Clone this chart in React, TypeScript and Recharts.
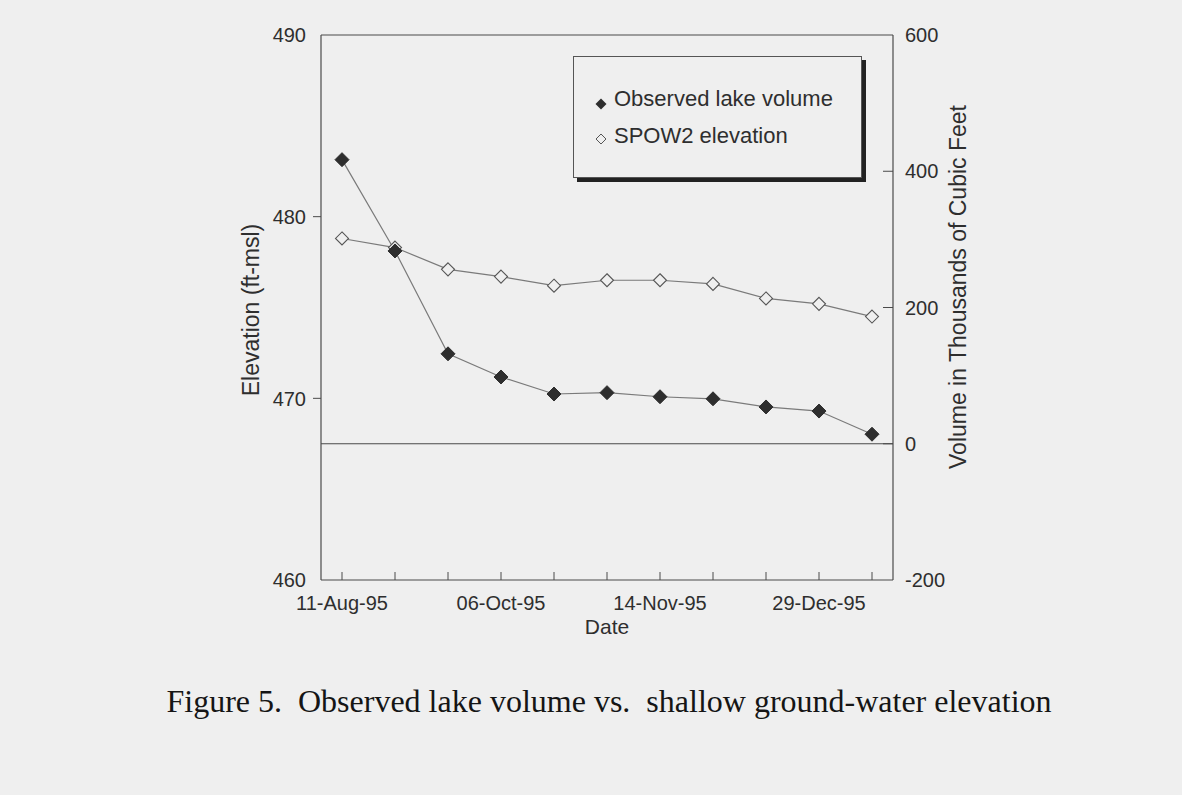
import React from 'react';
import { LineChart, Line, XAxis, YAxis, ReferenceLine, Legend } from 'recharts';

// Sampling dates (category axis); only every third one is labelled
const dates = [
  '11-Aug-95', '29-Aug-95', '18-Sep-95', '06-Oct-95', '19-Oct-95', '01-Nov-95',
  '14-Nov-95', '29-Nov-95', '14-Dec-95', '29-Dec-95', '12-Jan-96',
];
const labeledDates = ['11-Aug-95', '06-Oct-95', '14-Nov-95', '29-Dec-95'];

// Observed lake volume, thousands of cubic feet (right axis)
const lakeVolume = [417, 283, 132, 98, 73, 75, 69, 66, 54, 48, 14];
// SPOW2 shallow ground-water elevation, ft-msl (left axis)
const spow2Elevation = [478.8, 478.3, 477.1, 476.7, 476.2, 476.5, 476.5, 476.3, 475.5, 475.2, 474.5];

const elevationTicks = [460, 470, 480, 490];
const volumeTicks = [-200, 0, 200, 400, 600];

const data = dates.map((d, i) => ({ date: d, volume: lakeVolume[i], elevation: spow2Elevation[i] }));

const BG = '#efefef';
const INK = '#2e2e2e';
const AXIS = '#4a4a4a';
const LINE = '#7a7a7a';
const FONT = '"Liberation Sans", Arial, Helvetica, sans-serif';

const diamond = (cx: number, cy: number, r: number) =>
  `${cx},${cy - r} ${cx + r},${cy} ${cx},${cy + r} ${cx - r},${cy}`;

const FilledDot = (props: any) => {
  const { cx, cy, index } = props;
  if (cx == null || cy == null) return <g key={`f${index}`} />;
  return <polygon key={`f${index}`} points={diamond(cx, cy, 7)} fill="#2e2e2e" stroke="#2e2e2e" strokeWidth={1} />;
};

const OpenDot = (props: any) => {
  const { cx, cy, index } = props;
  if (cx == null || cy == null) return <g key={`o${index}`} />;
  return <polygon key={`o${index}`} points={diamond(cx, cy, 6.5)} fill={BG} stroke="#555" strokeWidth={1.1} />;
};

const LeftTick = (props: any) => {
  const { x, y, payload } = props;
  const v = payload.value;
  return (
    <g>
      {v !== 460 && v !== 490 && <line x1={x - 8} x2={x} y1={y} y2={y} stroke={AXIS} strokeWidth={1} />}
      <text x={x - 15} y={y} dy="0.36em" textAnchor="end" fontSize={20} fontFamily={FONT} fill={INK}>
        {v}
      </text>
    </g>
  );
};

const RightTick = (props: any) => {
  const { x, y, payload } = props;
  const v = payload.value;
  return (
    <g>
      {v !== -200 && v !== 600 && <line x1={x - 10} x2={x} y1={y} y2={y} stroke={AXIS} strokeWidth={1} />}
      <text x={x + 12} y={y} dy="0.36em" textAnchor="start" fontSize={20} fontFamily={FONT} fill={INK}>
        {v}
      </text>
    </g>
  );
};

const DateTick = (props: any) => {
  const { x, y, payload } = props;
  const show = labeledDates.includes(payload.value);
  return (
    <g>
      <line x1={x} x2={x} y1={y - 8} y2={y} stroke={AXIS} strokeWidth={1} />
      {show && (
        <text x={x} y={y + 30} textAnchor="middle" fontSize={20} fontFamily={FONT} fill={INK}>
          {payload.value}
        </text>
      )}
    </g>
  );
};

const LegendBox = () => (
  <div
    style={{
      width: 289,
      height: 122,
      boxSizing: 'border-box',
      border: '1px solid #555',
      background: BG,
      boxShadow: '4px 4px 0 #222',
      position: 'relative',
    }}
  >
    <svg width={289} height={122} style={{ position: 'absolute', left: 0, top: 0 }}>
      <polygon points={diamond(27, 47, 5.5)} fill="#2e2e2e" />
      <text x={40} y={49} fontSize={22} fontFamily={FONT} fill={INK}>Observed lake volume</text>
      <polygon points={diamond(27, 82, 5)} fill={BG} stroke="#555" strokeWidth={1} />
      <text x={40} y={86} fontSize={22} fontFamily={FONT} fill={INK}>SPOW2 elevation</text>
    </svg>
  </div>
);

export default function App() {
  return (
    <div style={{ position: 'absolute', left: 0, top: 0, width: 1182, height: 795, background: BG }}>
      <LineChart
        width={1182}
        height={795}
        data={data}
        margin={{ top: 35, right: 229, bottom: 175, left: 261 }}
      >
        <XAxis
          dataKey="date"
          interval={0}
          padding={{ left: 21, right: 21 }}
          tick={<DateTick />}
          tickLine={false}
          tickSize={0}
          tickMargin={0}
          height={40}
          axisLine={{ stroke: AXIS, strokeWidth: 1.2 }}
          label={{
            content: (p: any) => (
              <text x={p.viewBox.x + p.viewBox.width / 2} y={634} textAnchor="middle" fontSize={21} fontFamily={FONT} fill={INK}>
                Date
              </text>
            ),
          }}
        />
        <YAxis
          yAxisId="elev"
          orientation="left"
          domain={[460, 490]}
          ticks={elevationTicks}
          width={60}
          tick={<LeftTick />}
          tickLine={false}
          tickSize={0}
          tickMargin={0}
          axisLine={{ stroke: AXIS, strokeWidth: 1.2 }}
          label={{
            content: () => (
              <text x={259} y={310} textAnchor="middle" fontSize={23} fontFamily={FONT} fill={INK} transform="rotate(-90 259 310)">
                Elevation (ft-msl)
              </text>
            ),
          }}
        />
        <YAxis
          yAxisId="vol"
          orientation="right"
          domain={[-200, 600]}
          ticks={volumeTicks}
          width={60}
          tick={<RightTick />}
          tickLine={false}
          tickSize={0}
          tickMargin={0}
          axisLine={{ stroke: AXIS, strokeWidth: 1.2 }}
          label={{
            content: () => (
              <text x={966} y={287} textAnchor="middle" fontSize={23} fontFamily={FONT} fill={INK} transform="rotate(-90 966 287)">
                Volume in Thousands of Cubic Feet
              </text>
            ),
          }}
        />
        <ReferenceLine yAxisId="elev" y={490} stroke={AXIS} strokeWidth={1.2} />
        <ReferenceLine yAxisId="vol" y={0} stroke={AXIS} strokeWidth={1.2} />
        <Legend
          layout="vertical"
          align="center"
          verticalAlign="middle"
          content={() => <LegendBox />}
          wrapperStyle={{ left: 573, top: 56, width: 'auto', height: 'auto' }}
        />
        <Line
          yAxisId="elev"
          dataKey="elevation"
          name="SPOW2 elevation"
          stroke={LINE}
          strokeWidth={1.2}
          dot={(p: any) => <OpenDot {...p} />}
          activeDot={false}
          isAnimationActive={false}
        />
        <Line
          yAxisId="vol"
          dataKey="volume"
          name="Observed lake volume"
          stroke={LINE}
          strokeWidth={1.2}
          dot={(p: any) => <FilledDot {...p} />}
          activeDot={false}
          isAnimationActive={false}
        />
      </LineChart>
      <svg width={1182} height={80} style={{ position: 'absolute', left: 0, top: 660 }}>
        <text
          x={609}
          y={52}
          textAnchor="middle"
          fontSize={32}
          fontFamily={'"Liberation Serif", "Times New Roman", serif'}
          fill="#151515"
          style={{ whiteSpace: 'pre' }}
          xmlSpace="preserve"
        >
          {'Figure 5.  Observed lake volume vs.  shallow ground-water elevation'}
        </text>
      </svg>
    </div>
  );
}
